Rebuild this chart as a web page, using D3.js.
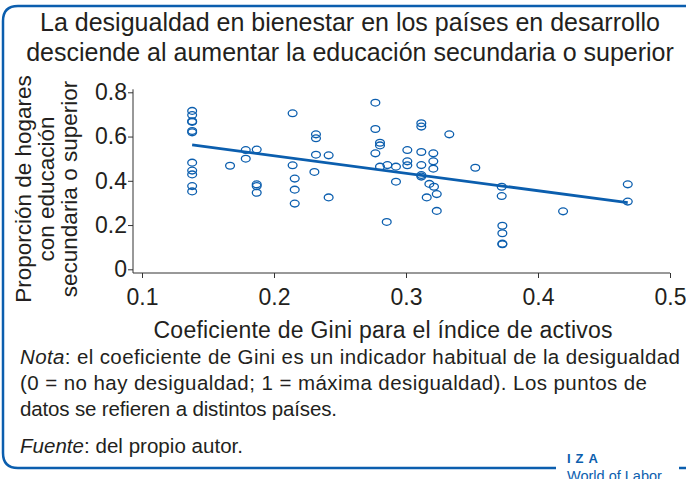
<!DOCTYPE html>
<html>
<head>
<meta charset="utf-8">
<script src="https://cdn.jsdelivr.net/npm/d3@7"></script>
<style>
  body { margin: 0; background: #fff; }
  svg { display: block; }
</style>
</head>
<body>
<svg id="chart"></svg>
<script>
// Gini coefficient of the asset index (x) and share of households with secondary or higher education (y)
const gini = [
  0.138, 0.138, 0.138, 0.138, 0.138, 0.138, 0.138, 0.138, 0.138, 0.138, 0.138,
  0.1667, 0.1786, 0.1786, 0.1869, 0.1869, 0.1869, 0.1869,
  0.2141, 0.2141, 0.2157, 0.2157, 0.2157,
  0.2768, 0.2768, 0.2318, 0.2318, 0.2318, 0.2414, 0.2306, 0.2414,
  0.2803, 0.2803, 0.2768, 0.2803, 0.2859, 0.2924, 0.2924, 0.2854,
  0.3010, 0.3010, 0.3010, 0.3116, 0.3116, 0.3116, 0.3116, 0.3116, 0.3116,
  0.3207, 0.3207, 0.3207, 0.3328, 0.3177, 0.3212, 0.3233, 0.3157, 0.3233,
  0.3525, 0.3725, 0.3725, 0.373, 0.373, 0.373, 0.373,
  0.419, 0.468, 0.468
];
const share = [
  0.716, 0.697, 0.669, 0.666, 0.625, 0.619, 0.482, 0.446, 0.429, 0.376, 0.352,
  0.468, 0.539, 0.500, 0.541, 0.384, 0.376, 0.346,
  0.705, 0.470, 0.410, 0.360, 0.297,
  0.753, 0.634, 0.610, 0.592, 0.518, 0.515, 0.440, 0.325,
  0.572, 0.560, 0.524, 0.464, 0.471, 0.464, 0.396, 0.214,
  0.539, 0.488, 0.470, 0.660, 0.645, 0.530, 0.471, 0.426, 0.419,
  0.524, 0.488, 0.455, 0.610, 0.386, 0.373, 0.340, 0.325, 0.264,
  0.459, 0.373, 0.331, 0.197, 0.163, 0.113, 0.116,
  0.262, 0.384, 0.306
];
// linear fit
const fitIntercept = 0.671;
const fitSlope = -0.79;

const xTicks = [0.1, 0.2, 0.3, 0.4, 0.5];
const yTicks = [0, 0.2, 0.4, 0.6, 0.8];

const titleLines = [
  "La desigualdad en bienestar en los países en desarrollo",
  "desciende al aumentar la educación secundaria o superior"
];
const yTitleLines = ["Proporción de hogares", "con educación", "secundaria o superior"];
const xTitle = "Coeficiente de Gini para el índice de activos";

const width = 686, height = 479;
const blue = "#0b5eae";
const ink = "#231f20";

const svg = d3.select("#chart")
  .attr("width", width)
  .attr("height", height)
  .attr("font-family", "'Liberation Sans', Arial, sans-serif");

// frame with rounded corners
svg.append("path")
  .attr("d", "M556,468H18Q3,468 3,453V21Q3,6 18,6H686")
  .attr("fill", "none")
  .attr("stroke", blue)
  .attr("stroke-width", 2.5);
svg.append("path")
  .attr("d", "M679,468H686")
  .attr("fill", "none")
  .attr("stroke", blue)
  .attr("stroke-width", 2.5);

// title
svg.append("g")
  .selectAll("text")
  .data(titleLines)
  .join("text")
  .attr("x", 350)
  .attr("y", (d, i) => 31 + i * 30)
  .attr("text-anchor", "middle")
  .attr("font-family", "'Liberation Sans Narrow', 'Arial Narrow', sans-serif")
  .attr("font-size", 25)
  .attr("fill", ink)
  .text(d => d);

const x = d3.scaleLinear().domain([0.1, 0.5]).range([142, 670]);
const y = d3.scaleLinear().domain([0, 0.8]).range([269.3, 92.3]);
const axisX = 133, axisY = 273;

// y axis
const yAxis = svg.append("g")
  .attr("transform", `translate(${axisX},0)`)
  .call(d3.axisLeft(y).tickValues(yTicks).tickSize(5).tickSizeOuter(0)
    .tickFormat(d => d === 0 ? "0" : d3.format(".1f")(d)));
yAxis.select(".domain").remove();
yAxis.selectAll("line").attr("stroke", "#333");
yAxis.selectAll("text").attr("font-size", 23).attr("fill", ink).attr("x", -6);
svg.append("line")
  .attr("x1", axisX).attr("x2", axisX)
  .attr("y1", y(0.8) - 3).attr("y2", axisY)
  .attr("stroke", "#333");

// x axis
const xAxis = svg.append("g")
  .attr("transform", `translate(0,${axisY})`)
  .call(d3.axisBottom(x).tickValues(xTicks).tickSize(5).tickSizeOuter(0)
    .tickFormat(d3.format(".1f")));
xAxis.select(".domain").remove();
xAxis.selectAll("line").attr("stroke", "#333");
xAxis.selectAll("text").attr("font-size", 23).attr("fill", ink).attr("y", 16);
svg.append("line")
  .attr("x1", axisX).attr("x2", x(0.5))
  .attr("y1", axisY).attr("y2", axisY)
  .attr("stroke", "#333");

// axis titles
svg.append("text")
  .attr("x", x(0.3) - 23)
  .attr("y", 338)
  .attr("text-anchor", "middle")
  .attr("font-size", 23)
  .attr("textLength", 459)
  .attr("lengthAdjust", "spacing")
  .attr("fill", ink)
  .text(xTitle);

svg.append("g")
  .attr("transform", "translate(0,189) rotate(-90)")
  .selectAll("text")
  .data(yTitleLines)
  .join("text")
  .attr("x", 0)
  .attr("y", (d, i) => 31 + i * 23)
  .attr("text-anchor", "middle")
  .attr("font-size", 22.5)
  .attr("fill", ink)
  .text(d => d);

// points
const I = d3.range(gini.length);
svg.append("g")
  .selectAll("ellipse")
  .data(I)
  .join("ellipse")
  .attr("cx", i => x(gini[i]))
  .attr("cy", i => y(share[i]))
  .attr("rx", 4.4)
  .attr("ry", 3.4)
  .attr("fill", "none")
  .attr("stroke", blue)
  .attr("stroke-width", 1.3);

// fitted line
const [xMin, xMax] = d3.extent(gini);
svg.append("line")
  .attr("x1", x(xMin)).attr("y1", y(fitIntercept + fitSlope * xMin))
  .attr("x2", x(xMax)).attr("y2", y(fitIntercept + fitSlope * xMax))
  .attr("stroke", blue)
  .attr("stroke-width", 2.8);

// note and source
const note = svg.append("g").attr("font-size", 20.5).attr("fill", ink);
const l1 = note.append("text").attr("x", 20).attr("y", 364)
  .attr("textLength", 660).attr("lengthAdjust", "spacing");
l1.append("tspan").attr("font-style", "italic").text("Nota");
l1.append("tspan").text(": el coeficiente de Gini es un indicador habitual de la desigualdad");
note.append("text").attr("x", 20).attr("y", 390)
  .attr("textLength", 627).attr("lengthAdjust", "spacing")
  .text("(0 = no hay desigualdad; 1 = máxima desigualdad). Los puntos de");
note.append("text").attr("x", 20).attr("y", 416)
  .attr("textLength", 317).attr("lengthAdjust", "spacing")
  .text("datos se refieren a distintos países.");
const l4 = note.append("text").attr("x", 20).attr("y", 453)
  .attr("textLength", 223).attr("lengthAdjust", "spacing");
l4.append("tspan").attr("font-style", "italic").text("Fuente");
l4.append("tspan").text(": del propio autor.");

// IZA mark
svg.append("text")
  .attr("x", 567).attr("y", 463)
  .attr("font-size", 13).attr("font-weight", "bold")
  .attr("letter-spacing", 5)
  .attr("fill", blue)
  .text("IZA");
svg.append("text")
  .attr("x", 567).attr("y", 481)
  .attr("font-size", 14.5)
  .attr("fill", blue)
  .text("World of Labor");
</script>
</body>
</html>
